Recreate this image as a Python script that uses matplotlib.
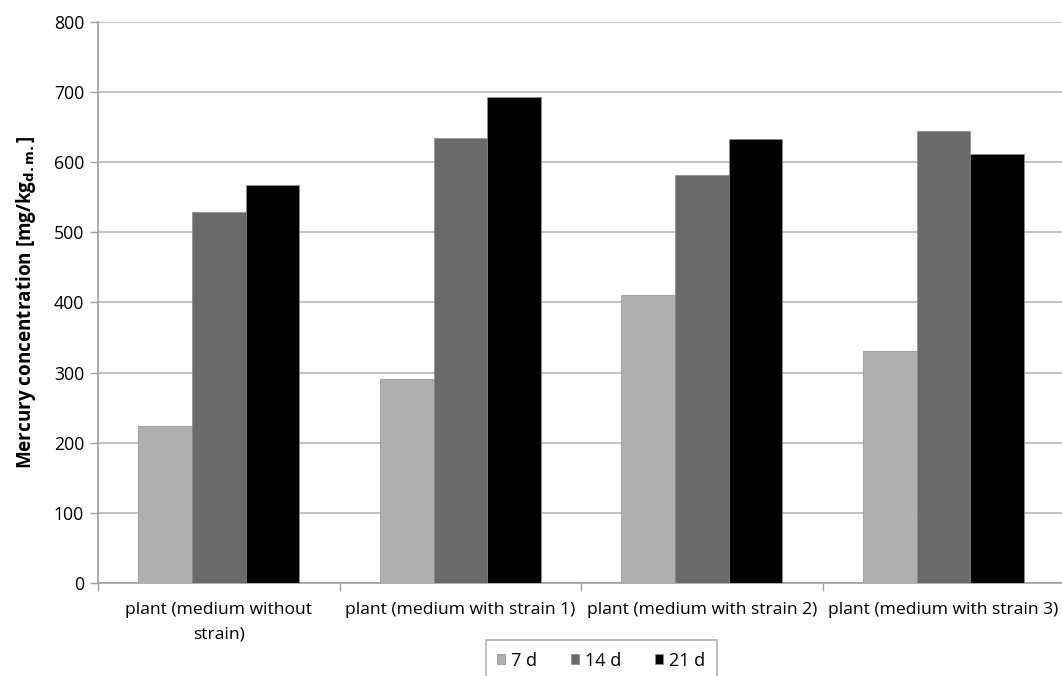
import numpy as np
import matplotlib.pyplot as plt
from matplotlib.pylab import mpl

mpl.rcParams['font.family'] = ['Open Sans', 'DejaVu Sans']

# 数据
categories = ['plant (medium without\nstrain)', 'plant (medium with strain 1)',
              'plant (medium with strain 2)', 'plant (medium with strain 3)']
series_names = ['7 d', '14 d', '21 d']
hg_7d = [224, 291, 410, 331]
hg_14d = [529, 634, 582, 644]
hg_21d = [568, 693, 633, 612]
y_ticks = [0, 100, 200, 300, 400, 500, 600, 700, 800]

colors = ['#afafaf', '#6a6a6a', '#000000']
values = [hg_7d, hg_14d, hg_21d]

fig = plt.figure(figsize=(10.62, 6.76), dpi=100)
ax = fig.add_axes([0.0923, 0.1376, 0.9097, 0.8299])

x = np.arange(len(categories))
w = 0.222
for i in range(3):
    ax.bar(x + (i - 1) * w, values[i], width=w, color=colors[i],
           edgecolor='#8c8c8c', linewidth=0.5, label=series_names[i], zorder=3)

ax.set_xlim(-0.5, len(categories) - 0.5)
ax.set_ylim(0, 800)
ax.set_yticks(y_ticks)
ax.set_yticklabels([str(t) for t in y_ticks], fontsize=12.7)
ax.yaxis.grid(True, color='#bdbdbd', linewidth=1.3, zorder=0)

# 分类刻度放在组之间
ax.set_xticks(x)
ax.set_xticklabels(categories, fontsize=12.6, linespacing=1.7)
ax.tick_params(axis='x', length=0, pad=14)
ax.set_xticks(np.arange(len(categories)) - 0.5, minor=True)
ax.tick_params(axis='x', which='minor', length=6, color='#a0a0a0', width=1)
ax.tick_params(axis='y', length=6, color='#a0a0a0', width=1, pad=4)

for s in ['top', 'right']:
    ax.spines[s].set_visible(False)
for s in ['left', 'bottom']:
    ax.spines[s].set_color('#a0a0a0')
    ax.spines[s].set_linewidth(1.2)

ax.set_ylabel(r'Mercury concentration [mg/kg$_{\mathbf{d.m.}}$]',
              fontsize=13.6, fontweight='bold', labelpad=11)

leg = fig.legend(loc='upper center', bbox_to_anchor=(0.566, 0.0533), ncol=3,
                 fontsize=13, frameon=True, fancybox=False, edgecolor='#a0a0a0',
                 handlelength=0.45, handleheight=0.45, handletextpad=0.3,
                 columnspacing=1.9, borderpad=0.65, borderaxespad=0)
leg.get_frame().set_linewidth(1.2)

plt.savefig('out.png', dpi=100)
